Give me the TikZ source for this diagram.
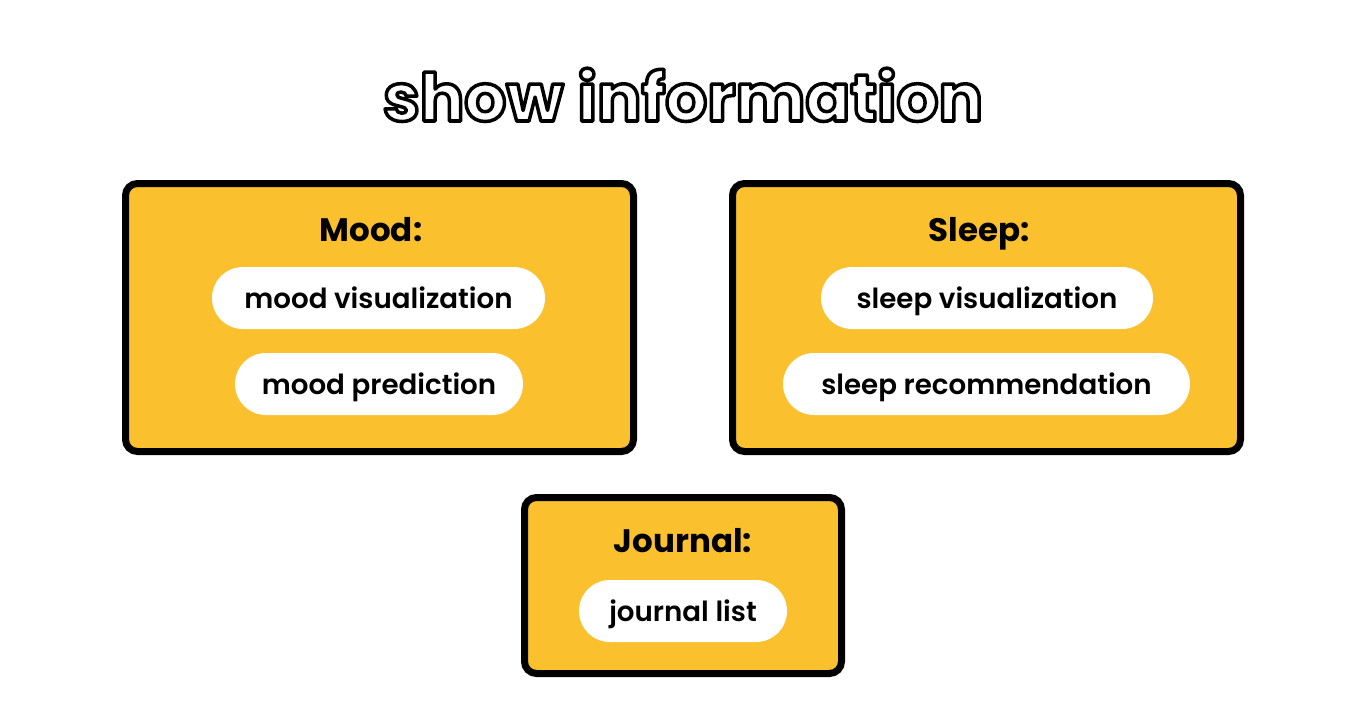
\documentclass[tikz,border=0pt]{standalone}
\usepackage{fontspec}
\setmainfont{Poppins}[UprightFont={* SemiBold}, BoldFont={* Bold}]
\newfontfamily\titlefont{Poppins}[UprightFont={* Bold}]
\definecolor{panelyellow}{HTML}{FBC02D}

% outlined lettering: white fill, black stroke (PDF text render mode 2)
\newcommand{\outlinedtext}[1]{%
  \special{pdf:literal direct q 2 Tr 3.5 w 1 j 1 g 0 G}#1\special{pdf:literal direct 0 Tr Q}}

\tikzset{
  panel/.style={draw=black, line width=7pt, fill=panelyellow,
    rounded corners=12pt, inner sep=0pt},
  pill/.style={fill=white, rounded corners=31pt, minimum height=62pt,
    inner sep=0pt, text height=20pt, text depth=0pt,
    font=\fontsize{27.7}{30}\selectfont},
  heading/.style={anchor=base, inner sep=0pt,
    font=\bfseries\fontsize{32.5}{36}\selectfont},
}

\begin{document}
\begin{tikzpicture}[x=1pt, y=-1pt]
\useasboundingbox (0,0) rectangle (1366,720);

% title
\node[anchor=base, inner sep=0pt] (title) at (683,121)
  {\titlefont\fontsize{66}{70}\selectfont\outlinedtext{show information}};

% panels
\node[panel, minimum width=508pt, minimum height=268pt] (mood)    at (379.5,317.5) {};
\node[panel, minimum width=508pt, minimum height=268pt] (sleep)   at (986.5,317.5) {};
\node[panel, minimum width=317pt, minimum height=176pt] (journal) at (683,585.5) {};

% headings
\node[heading] (moodhead)    at (371,241) {Mood:};
\node[heading] (sleephead)   at (979,241) {Sleep:};
\node[heading] (journalhead) at (683,552) {Journal:};

% items
\node[pill, minimum width=333pt] (moodvis)  at (378.5,298) {mood visualization};
\node[pill, minimum width=288pt] (moodpred) at (379,384)   {mood prediction};
\node[pill, minimum width=332pt] (sleepvis) at (987,298)   {sleep visualization};
\node[pill, minimum width=407pt] (sleeprec) at (986.5,384) {sleep recommendation};
\node[pill, minimum width=208pt] (jlist)    at (683,611)   {journal list};
\end{tikzpicture}
\end{document}
